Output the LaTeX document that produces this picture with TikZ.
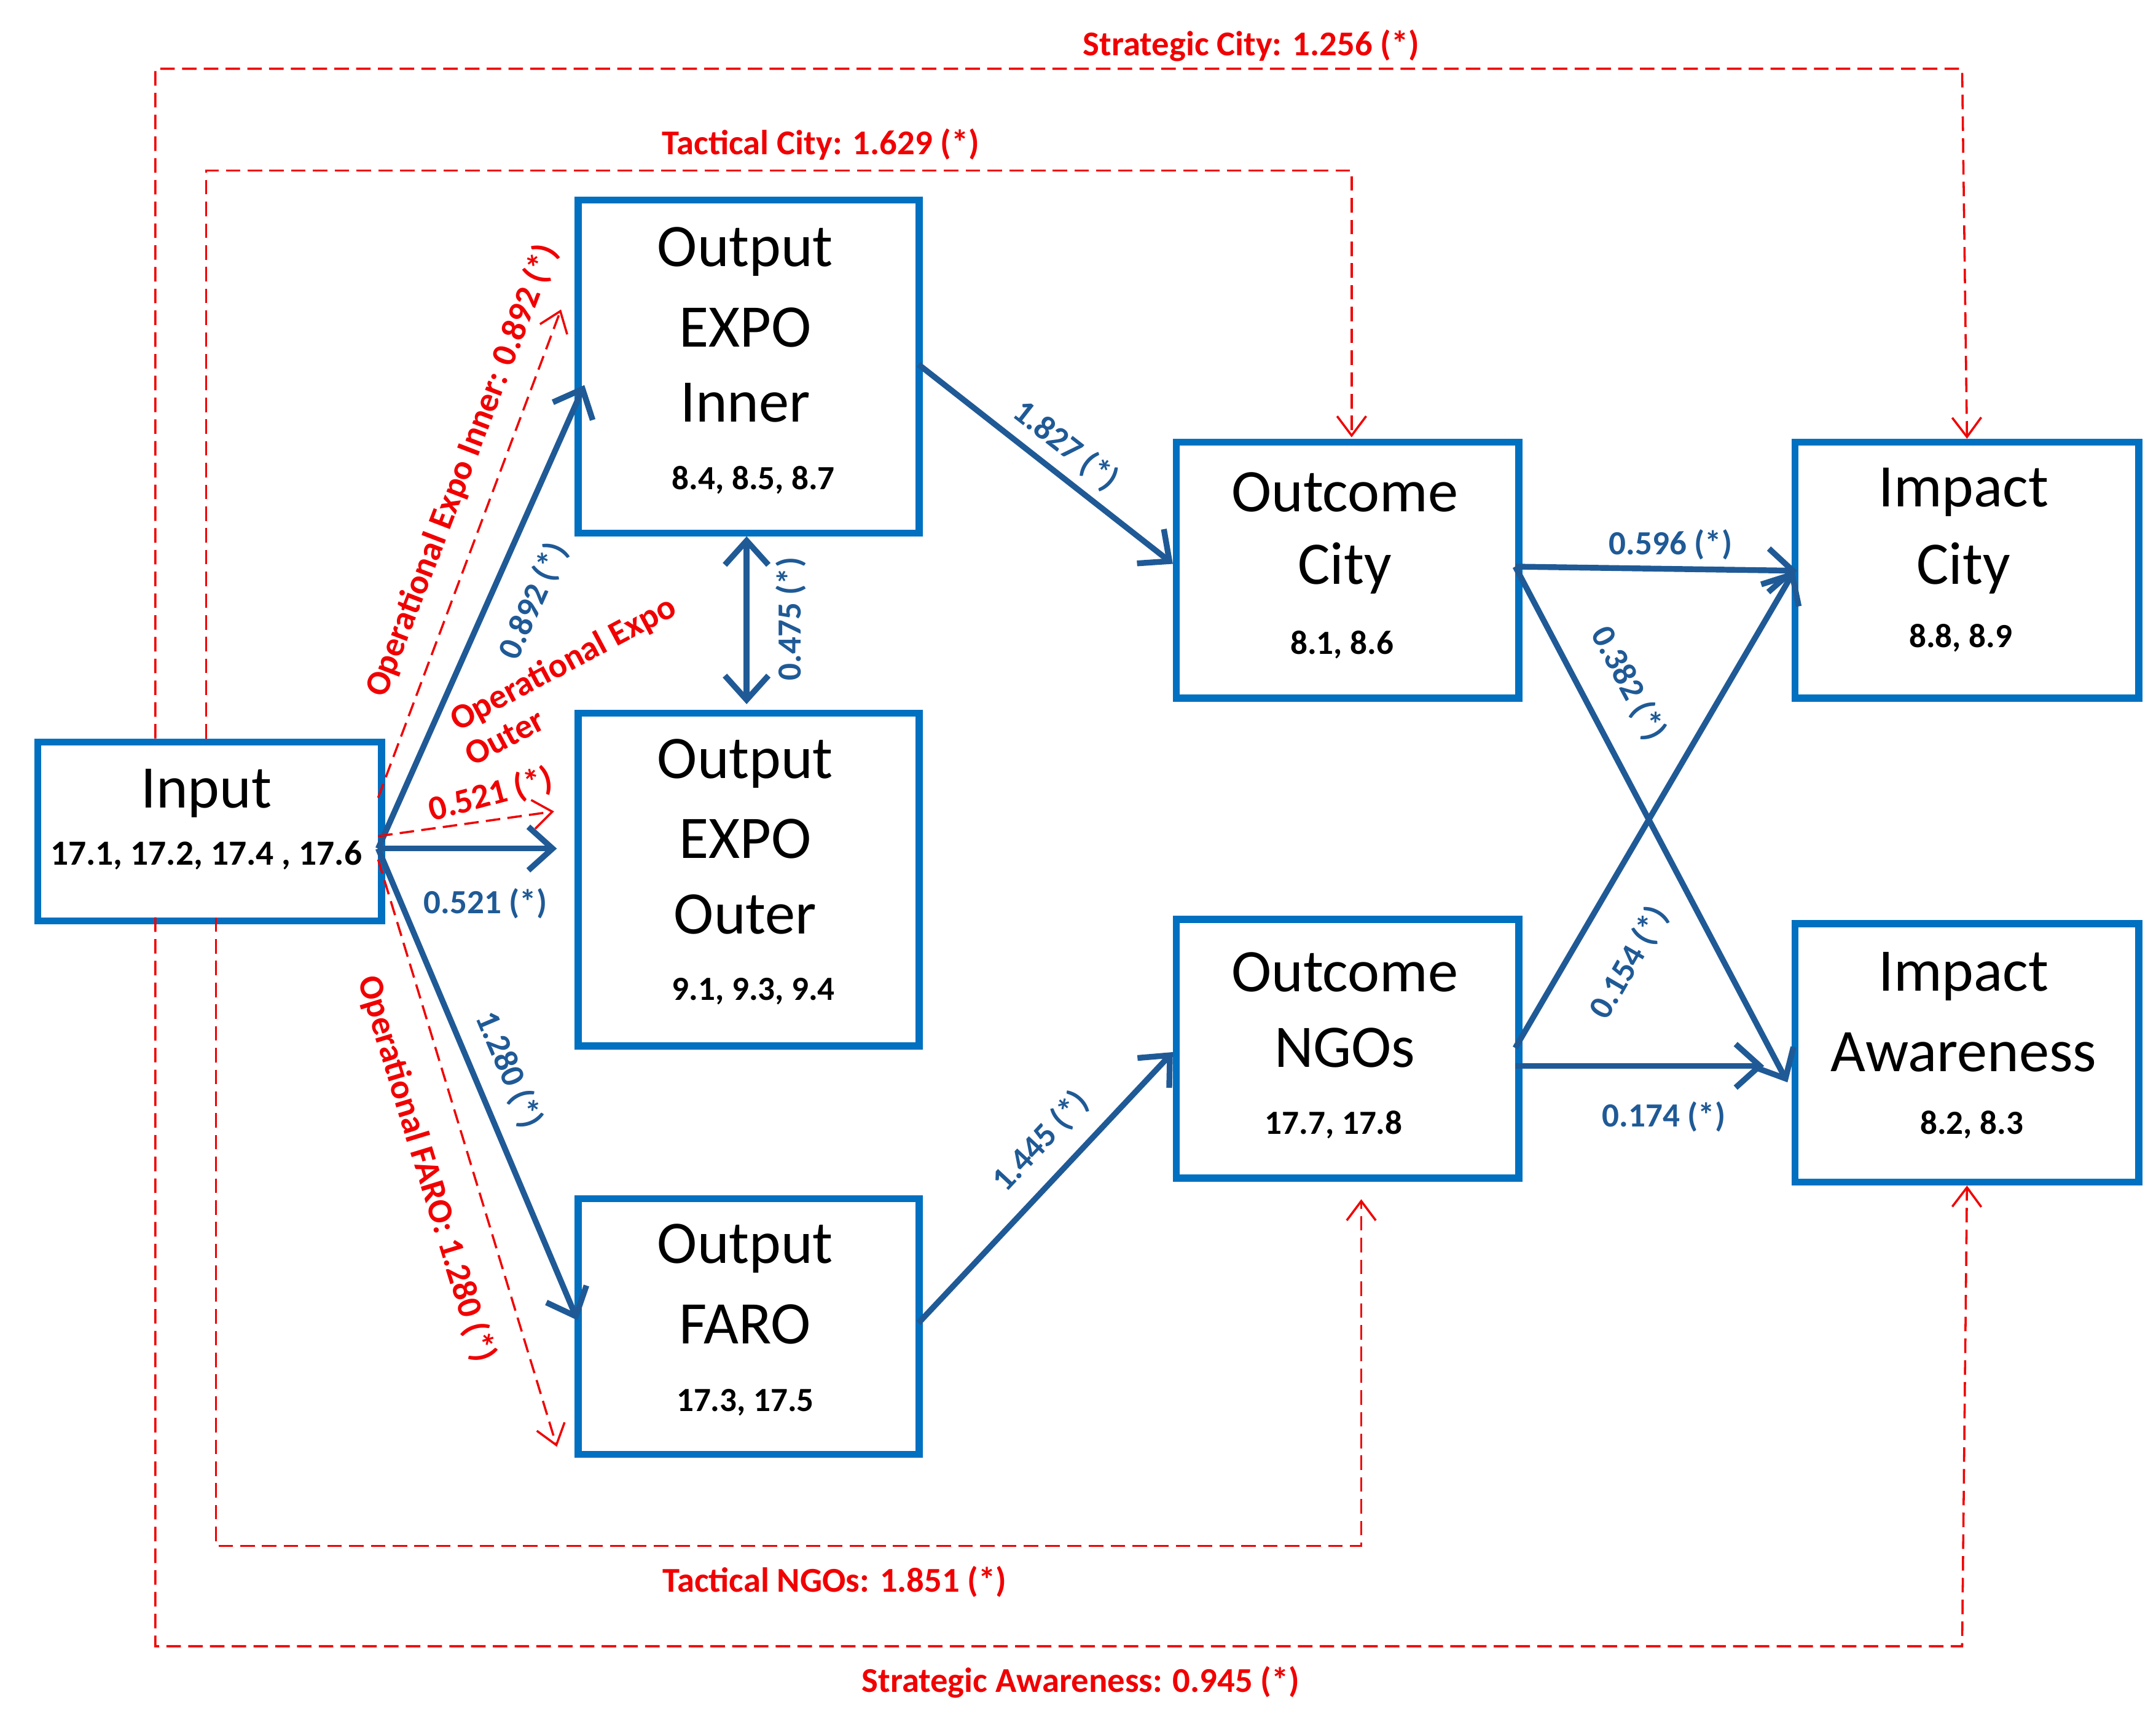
\documentclass[tikz,border=0pt]{standalone}
\usepackage{fontspec}
\setmainfont{Carlito}
\usetikzlibrary{arrows.meta,calc}
\definecolor{bx}{HTML}{0070C0}
\definecolor{ar}{HTML}{1F5A96}
\definecolor{rd}{HTML}{F00000}
\begin{document}
\begin{tikzpicture}[x=0.01cm,y=-0.01cm,
 box/.style={draw=bx,line width=1.45pt,inner sep=0,anchor=north west},
 big/.style={font=\fontsize{12.5}{14}\selectfont,inner sep=0},
 num/.style={font=\fontsize{7}{8}\selectfont\bfseries,inner sep=0},
 blu/.style={draw=ar,line width=1.2pt,-{Straight Barb[length=5pt,width=9pt,line width=1.2pt]}},
 red/.style={draw=rd,line width=0.45pt,dashed,dash pattern=on 3pt off 1.5pt,-{Straight Barb[length=4pt,width=6pt]}},
 bl/.style={font=\fontsize{7}{8}\selectfont\bfseries,text=ar,inner sep=0},
 rl/.style={font=\fontsize{7.2}{8}\selectfont\bfseries,text=rd,inner sep=0}]
\useasboundingbox (0,0) rectangle (1568,1246);
% boxes
\node[box,minimum width=250*0.01cm,minimum height=130*0.01cm] (in) at (25,537) {};
\node[box,minimum width=248*0.01cm,minimum height=242*0.01cm] (oi) at (418,143) {};
\node[box,minimum width=248*0.01cm,minimum height=242*0.01cm] (oo) at (418,516) {};
\node[box,minimum width=248*0.01cm,minimum height=186*0.01cm] (of) at (418,869) {};
\node[box,minimum width=249*0.01cm,minimum height=186*0.01cm] (oc) at (853,319) {};
\node[box,minimum width=249*0.01cm,minimum height=188*0.01cm] (on) at (853,666) {};
\node[box,minimum width=250*0.01cm,minimum height=186*0.01cm] (ic) at (1303,319) {};
\node[box,minimum width=250*0.01cm,minimum height=188*0.01cm] (ia) at (1303,669) {};
% texts
\node[big] (t1) at (150,577) {Input};
\node[num,font=\fontsize{7.3}{8}\selectfont\bfseries] (n1) at (150,622) {17.1, 17.2, 17.4 , 17.6};
\node[big] (t2a) at (542,183) {Output};
\node[big] (t2b) at (542,238) {EXPO};
\node[big] (t2c) at (542,293) {Inner};
\node[num] (n2) at (548,349) {8.4, 8.5, 8.7};
\node[big] (t3a) at (542,555) {Output};
\node[big] (t3b) at (542,610) {EXPO};
\node[big] (t3c) at (542,665) {Outer};
\node[num] (n3) at (548,721) {9.1, 9.3, 9.4};
\node[big] (t4a) at (542,908) {Output};
\node[big] (t4b) at (542,963) {FARO};
\node[num] (n4) at (542,1020) {17.3, 17.5};
\node[big] (t5a) at (978,358) {Outcome};
\node[big] (t5b) at (978,413) {City};
\node[num] (n5) at (976,469) {8.1, 8.6};
\node[big] (t6a) at (978,707) {Outcome};
\node[big] (t6b) at (978,762) {NGOs};
\node[num] (n6) at (970,818) {17.7, 17.8};
\node[big] (t7a) at (1428,358) {Impact};
\node[big] (t7b) at (1428,413) {City};
\node[num] (n7) at (1426,464) {8.8, 8.9};
\node[big] (t8a) at (1428,710) {Impact};
\node[big] (t8b) at (1428,765) {Awareness};
\node[num] (n8) at (1434,818) {8.2, 8.3};
% blue arrows
\draw[blu] ($(in.north west)+(250,80)$) -- ($(oi.north west)+(7,137)$);
\draw[blu] ($(in.north west)+(250,80)$) -- ($(oo.north west)+(-13,101)$);
\draw[blu] ($(in.north west)+(250,80)$) -- ($(of.north west)+(2,91)$);
\draw[blu,{Straight Barb[length=5pt,width=9pt,line width=1.2pt]}-{Straight Barb[length=5pt,width=9pt,line width=1.2pt]}] ($(oi.north west)+(125,247)$) -- ($(oo.north west)+(125,-4)$);
\draw[blu] ($(oi.north west)+(250,122)$) -- ($(oc.north west)+(0,91)$);
\draw[blu] ($(of.north west)+(250,93)$) -- ($(on.north west)+(0,99)$);
\draw[blu] ($(oc.north west)+(249,93)$) -- ($(ic.north west)+(4,96)$);
\draw[blu] ($(oc.north west)+(249,93)$) -- ($(ia.north west)+(-3,118)$);
\draw[blu] ($(on.north west)+(249,96)$) -- ($(ic.north west)+(2,96)$);
\draw[blu] ($(on.north west)+(249,109)$) -- ($(ia.north west)+(-20,106)$);
% blue labels
\node[bl,rotate=66] (l1) at (388,437) {0.892 (*)};
\node[bl] (l2) at (353,657) {0.521 (*)};
\node[bl,rotate=-67] (l3) at (370,778) {1.280 (*)};
\node[bl,rotate=90] (l4) at (575,450) {0.475 (*)};
\node[bl,rotate=-38] (l5) at (775,324) {1.827 (*)};
\node[bl,rotate=47] (l6) at (757,830) {1.445 (*)};
\node[bl] (l7) at (1215,396) {0.596 (*)};
\node[bl,rotate=-62] (l8) at (1184,497) {0.382 (*)};
\node[bl,rotate=60] (l9) at (1185,700) {0.154 (*)};
\node[bl] (l10) at (1210,812) {0.174 (*)};
% red dashed
\coordinate (sc0) at (113,537); \coordinate (sa0) at (113,667);
\coordinate (tc0) at (150,537); \coordinate (tn0) at (157,667);
\draw[red] (sc0) -- (113,50) -- (1427,50) -- (ic.north);
\draw[red] (sa0) -- (113,1197) -- (1427,1197) -- (ia.south);
\draw[red] (tc0) -- (150,124) -- (983,124) -- ($(oc.north west)+(130,-1)$);
\draw[red] (tn0) -- (157,1124) -- (990,1124) -- ($(on.north west)+(137,206)$);
\draw[red] ($(in.north west)+(250,43)$) -- ($(oi.north west)+(-10,82)$);
\draw[red] ($(in.north west)+(250,71)$) -- ($(oo.north west)+(-15,74)$);
\draw[red] ($(in.north west)+(250,88)$) -- ($(of.north west)+(-13,183)$);
% red labels
\node[rl] (r1) at (910,33) {Strategic City: 1.256 (*)};
\node[rl] (r2) at (786,1223) {Strategic Awareness: 0.945 (*)};
\node[rl] (r3) at (597,105) {Tactical City: 1.629 (*)};
\node[rl] (r4) at (607,1150) {Tactical NGOs: 1.851 (*)};
\node[rl,rotate=69] (r5) at (336,342) {Operational Expo Inner: 0.892 (*)};
\node[rl,rotate=28] (r6) at (410,483) {Operational Expo};
\node[rl,rotate=28] (r7) at (367,536) {Outer};
\node[rl,rotate=15] (r8) at (357,578) {0.521 (*)};
\node[rl,rotate=-73] (r9) at (310,850) {Operational FARO: 1.280 (*)};
\end{tikzpicture}
\end{document}
